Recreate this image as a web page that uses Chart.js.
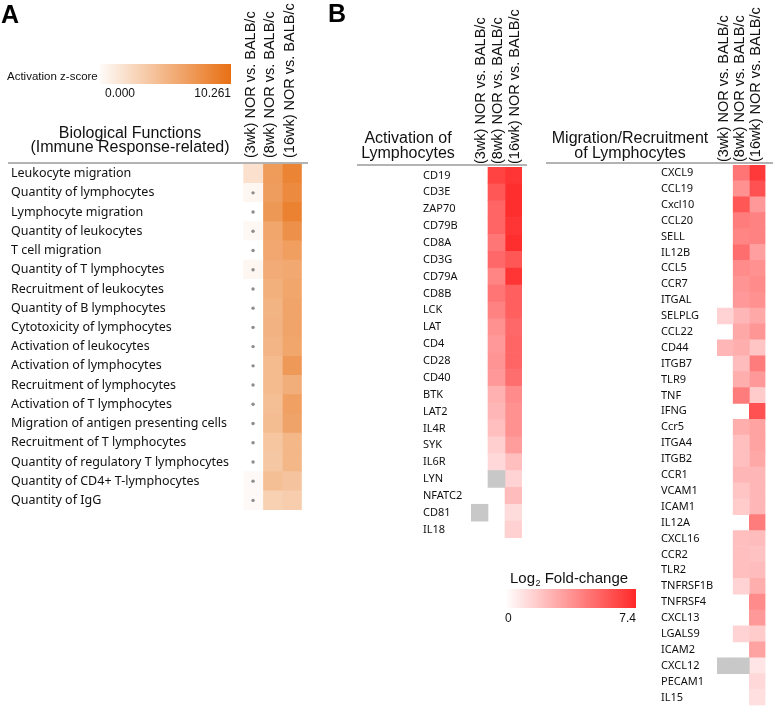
<!DOCTYPE html>
<html lang="en">
<head>
<meta charset="UTF-8">
<title>Immune response heatmaps</title>
<script src="https://cdn.jsdelivr.net/npm/chart.js"></script>
<style>
  body { margin: 0; background: #fff; }
  #wrap { position: relative; width: 773px; height: 712px; }
  #wrap canvas { position: absolute; left: 0; top: 0; }
</style>
</head>
<body>
<div id="wrap">
  <canvas id="chart_func" width="773" height="712"></canvas>
  <canvas id="chart_act" width="773" height="712"></canvas>
  <canvas id="chart_mig" width="773" height="712"></canvas>
</div>
<script>
// column headers shared by all three heatmaps
const colLabels = ['(3wk) NOR vs. BALB/c', '(8wk) NOR vs. BALB/c', '(16wk) NOR vs. BALB/c'];

// Panel A - activation z-scores
const funcLabels = ['Leukocyte migration', 'Quantity of lymphocytes', 'Lymphocyte migration', 'Quantity of leukocytes',
  'T cell migration', 'Quantity of T lymphocytes', 'Recruitment of leukocytes', 'Quantity of B lymphocytes',
  'Cytotoxicity of lymphocytes', 'Activation of leukocytes', 'Activation of lymphocytes', 'Recruitment of lymphocytes',
  'Activation of T lymphocytes', 'Migration of antigen presenting cells', 'Recruitment of T lymphocytes',
  'Quantity of regulatory T lymphocytes', 'Quantity of CD4+ T-lymphocytes', 'Quantity of IgG'];
const func3wk  = [2.2, 0.6, 0, 0.5, 0, 0.6, 0, 0, 0, 0, 0, 0, 0, 0, 0, 0, 0.4, 0.4];
const func8wk  = [7.2, 7.0, 7.4, 6.4, 6.3, 6.0, 5.7, 5.4, 5.5, 5.3, 4.9, 4.9, 4.6, 4.8, 4.1, 4.0, 4.6, 3.3];
const func16wk = [8.8, 8.4, 9.0, 7.9, 6.9, 6.2, 6.4, 6.5, 6.5, 6.4, 7.3, 5.8, 6.8, 6.6, 5.2, 5.2, 4.3, 3.6];
const func3wkDot = [false, true, true, true, true, true, true, true, true, true, true, true, true, true, true, true, true, true];
const zMin = 0, zMax = 10.261;

// Panel B - log2 fold-change (null = not shown, 'NA' = grey)
const actGenes = ['CD19', 'CD3E', 'ZAP70', 'CD79B', 'CD8A', 'CD3G', 'CD79A', 'CD8B', 'LCK', 'LAT', 'CD4',
  'CD28', 'CD40', 'BTK', 'LAT2', 'IL4R', 'SYK', 'IL6R', 'LYN', 'NFATC2', 'CD81', 'IL18'];
const act3wk  = [null, null, null, null, null, null, null, null, null, null, null,
  null, null, null, null, null, null, null, null, null, 'NA', null];
const act8wk  = [6.5, 5.8, 5.3, 5.3, 4.7, 5.2, 4.2, 4.8, 4.3, 3.8, 3.5,
  3.7, 3.5, 2.7, 2.5, 2.2, 1.7, 1.3, 'NA', null, null, null];
const act16wk = [7.0, 7.2, 7.2, 7.0, 7.2, 5.8, 7.0, 5.5, 5.5, 5.2, 5.3,
  5.3, 5.0, 4.0, 3.8, 3.8, 3.4, 2.2, 1.5, 2.3, 1.2, 1.6];

const migGenes = ['CXCL9', 'CCL19', 'Cxcl10', 'CCL20', 'SELL', 'IL12B', 'CCL5', 'CCR7', 'ITGAL', 'SELPLG', 'CCL22',
  'CD44', 'ITGB7', 'TLR9', 'TNF', 'IFNG', 'Ccr5', 'ITGA4', 'ITGB2', 'CCR1', 'VCAM1', 'ICAM1', 'IL12A', 'CXCL16',
  'CCR2', 'TLR2', 'TNFRSF1B', 'TNFRSF4', 'CXCL13', 'LGALS9', 'ICAM2', 'CXCL12', 'PECAM1', 'IL15'];
const mig3wk  = [null, null, null, null, null, null, null, null, null, 1.5, null,
  2.5, null, null, null, null, null, null, null, null, null, null, null, null,
  null, null, null, null, null, null, null, 'NA', null, null];
const mig8wk  = [4.8, 3.8, 5.8, 4.5, 4.2, 5.0, 4.0, 3.7, 3.5, 2.5, 3.0,
  2.8, 2.3, 2.8, 4.5, null, 2.8, 2.2, 2.2, 2.5, 2.0, 1.8, null, 2.2,
  2.2, 2.2, 1.5, null, null, 1.5, null, 'NA', null, null];
const mig16wk = [6.8, 6.0, 3.5, 4.3, 4.3, 3.3, 3.8, 4.0, 3.8, 3.0, 3.6,
  2.0, 4.5, 3.5, 1.8, 6.0, 3.2, 3.2, 3.0, 2.5, 2.5, 2.5, 4.5, 2.3,
  2.1, 2.3, 2.8, 4.0, 3.5, 1.8, 3.2, 0.9, 1.3, 1.1];
const fcMin = 0, fcMax = 7.4;

const ORANGE = [232, 112, 20];
const RED = [255, 40, 40];
const GREY = 'rgb(200,200,200)';
const HEAD_FONT = '"Liberation Sans", Arial, sans-serif';
const ROW_FONT = '"Noto Sans", "Open Sans", sans-serif';
const W = 773, H = 712;

function shade(end, t) {
    t = Math.max(0, Math.min(1, t));
    return 'rgb(' + end.map(c => Math.round(255 + (c - 255) * t)).join(',') + ')';
}

// one heatmap = floating horizontal bars, one dataset per column
function heatmap(id, rows, cols, colorOf, box, extras) {
    return new Chart(document.getElementById(id), {
        type: 'bar',
        data: {
            labels: rows,
            datasets: cols.map((vals, c) => ({
                data: vals.map(v => v === null ? null : [c, c + 1]),
                backgroundColor: vals.map(v => v === 'NA' ? GREY : colorOf(v)),
                borderWidth: 0,
                barPercentage: 1,
                categoryPercentage: 1,
                grouped: false
            }))
        },
        options: {
            indexAxis: 'y',
            responsive: false,
            animation: false,
            events: [],
            layout: { padding: { left: box.labelX, right: W - box.right, top: 0, bottom: H - box.bottom } },
            plugins: { legend: { display: false }, tooltip: { enabled: false } },
            scales: {
                x: {
                    type: 'linear', position: 'top', min: 0, max: 3,
                    grid: { display: false, drawTicks: false }, border: { display: false },
                    afterBuildTicks: s => { s.ticks = [0.5, 1.5, 2.5].map(v => ({ value: v })); },
                    afterFit: s => { s.height = box.top; },
                    ticks: {
                        autoSkip: false, minRotation: 90, maxRotation: 90,
                        padding: box.headPad, labelOffset: box.headShift, color: '#111',
                        font: { family: HEAD_FONT, size: box.headSize },
                        callback: (v, i) => colLabels[i]
                    }
                },
                y: {
                    grid: { display: false, drawTicks: false }, border: { display: false },
                    afterFit: s => { s.width = box.left - box.labelX; },
                    ticks: { crossAlign: 'far', padding: 0, autoSkip: false, color: '#111',
                             font: { family: ROW_FONT, size: box.rowSize } }
                }
            }
        },
        plugins: [{ id: 'extras', afterDraw: extras }]
    });
}

function rule(ctx, x0, x1, y) {
    ctx.strokeStyle = '#9a9a9a';
    ctx.lineWidth = 1.5;
    ctx.beginPath(); ctx.moveTo(x0, y); ctx.lineTo(x1, y); ctx.stroke();
}

function title(ctx, lines, x, ys) {
    ctx.fillStyle = '#111';
    ctx.font = '16px ' + HEAD_FONT;
    ctx.textAlign = 'center';
    ctx.textBaseline = 'alphabetic';
    lines.forEach((l, i) => ctx.fillText(l, x, ys[i]));
}

function drawPanelA(chart) {
    const ctx = chart.ctx, xs = chart.scales.x, ys = chart.scales.y;
    ctx.save();
    ctx.fillStyle = '#000';
    ctx.textBaseline = 'alphabetic';
    ctx.textAlign = 'left';
    ctx.font = 'bold 25px ' + HEAD_FONT;
    ctx.fillText('A', 1, 23);

    // colour scale
    const g = ctx.createLinearGradient(100, 0, 231, 0);
    g.addColorStop(0, shade(ORANGE, 0.03));
    g.addColorStop(1, shade(ORANGE, 1));
    ctx.fillStyle = g;
    ctx.fillRect(100, 64, 131, 20);
    ctx.fillStyle = '#111';
    ctx.font = '11.5px ' + HEAD_FONT;
    ctx.fillText('Activation z-score', 7, 80);
    ctx.font = '12px ' + HEAD_FONT;
    ctx.textAlign = 'center';
    ctx.fillText(zMin.toFixed(3), 120, 97);
    ctx.textAlign = 'right';
    ctx.fillText(zMax.toFixed(3), 231, 97);

    title(ctx, ['Biological Functions', '(Immune Response-related)'], 130, [138, 152]);
    rule(ctx, 8, 308, 163);

    // grey dots in the 3wk column
    ctx.fillStyle = '#8c8c8c';
    func3wkDot.forEach((d, i) => {
        if (!d) return;
        ctx.beginPath();
        ctx.arc(xs.getPixelForValue(0.5), ys.getPixelForValue(i), 1.7, 0, Math.PI * 2);
        ctx.fill();
    });
    ctx.restore();
}

function drawPanelBAct(chart) {
    const ctx = chart.ctx;
    ctx.save();
    ctx.fillStyle = '#000';
    ctx.textBaseline = 'alphabetic';
    ctx.textAlign = 'left';
    ctx.font = 'bold 25px ' + HEAD_FONT;
    ctx.fillText('B', 328, 22);
    title(ctx, ['Activation of', 'Lymphocytes'], 408, [143, 158]);
    rule(ctx, 357, 527, 165);

    // colour scale
    const g = ctx.createLinearGradient(505, 0, 636, 0);
    g.addColorStop(0, shade(RED, 0));
    g.addColorStop(1, shade(RED, 1));
    ctx.fillStyle = g;
    ctx.fillRect(505, 589, 131, 19);
    ctx.fillStyle = '#111';
    ctx.textAlign = 'left';
    ctx.font = '15px ' + HEAD_FONT;
    let x = 510;
    ctx.fillText('Log', x, 583);
    x += ctx.measureText('Log').width;
    ctx.font = '9px ' + HEAD_FONT;
    ctx.fillText('2', x + 0.5, 586);
    x += ctx.measureText('2').width + 0.5;
    ctx.font = '15px ' + HEAD_FONT;
    ctx.fillText(' Fold-change', x, 583);
    ctx.font = '12px ' + HEAD_FONT;
    ctx.fillText(String(fcMin), 505, 622);
    ctx.textAlign = 'right';
    ctx.fillText(fcMax.toFixed(1), 636, 622);
    ctx.restore();
}

function drawPanelBMig(chart) {
    const ctx = chart.ctx;
    ctx.save();
    title(ctx, ['Migration/Recruitment', 'of Lymphocytes'], 630, [143, 158]);
    rule(ctx, 546, 773, 163);
    ctx.restore();
}

const zColor = v => shade(ORANGE, (v - zMin) / (zMax - zMin));
const fcColor = v => shade(RED, (v - fcMin) / (fcMax - fcMin));

const chartFunc = heatmap('chart_func', funcLabels, [func3wk, func8wk, func16wk], zColor,
    { labelX: 11, left: 243.3, right: 301.8, top: 164, bottom: 510,
      headPad: 6, headShift: 15.1, headSize: 14.5, rowSize: 12.5 },
    drawPanelA);
const chartAct = heatmap('chart_act', actGenes, [act3wk, act8wk, act16wk], fcColor,
    { labelX: 423, left: 471, right: 522, top: 167, bottom: 538,
      headPad: 3, headShift: 18.4, headSize: 14.5, rowSize: 11 },
    drawPanelBAct);
const chartMig = heatmap('chart_mig', migGenes, [mig3wk, mig8wk, mig16wk], fcColor,
    { labelX: 661, left: 717, right: 765.5, top: 165, bottom: 711,
      headPad: 3, headShift: 16.4, headSize: 14.5, rowSize: 11 },
    drawPanelBMig);
</script>
</body>
</html>
